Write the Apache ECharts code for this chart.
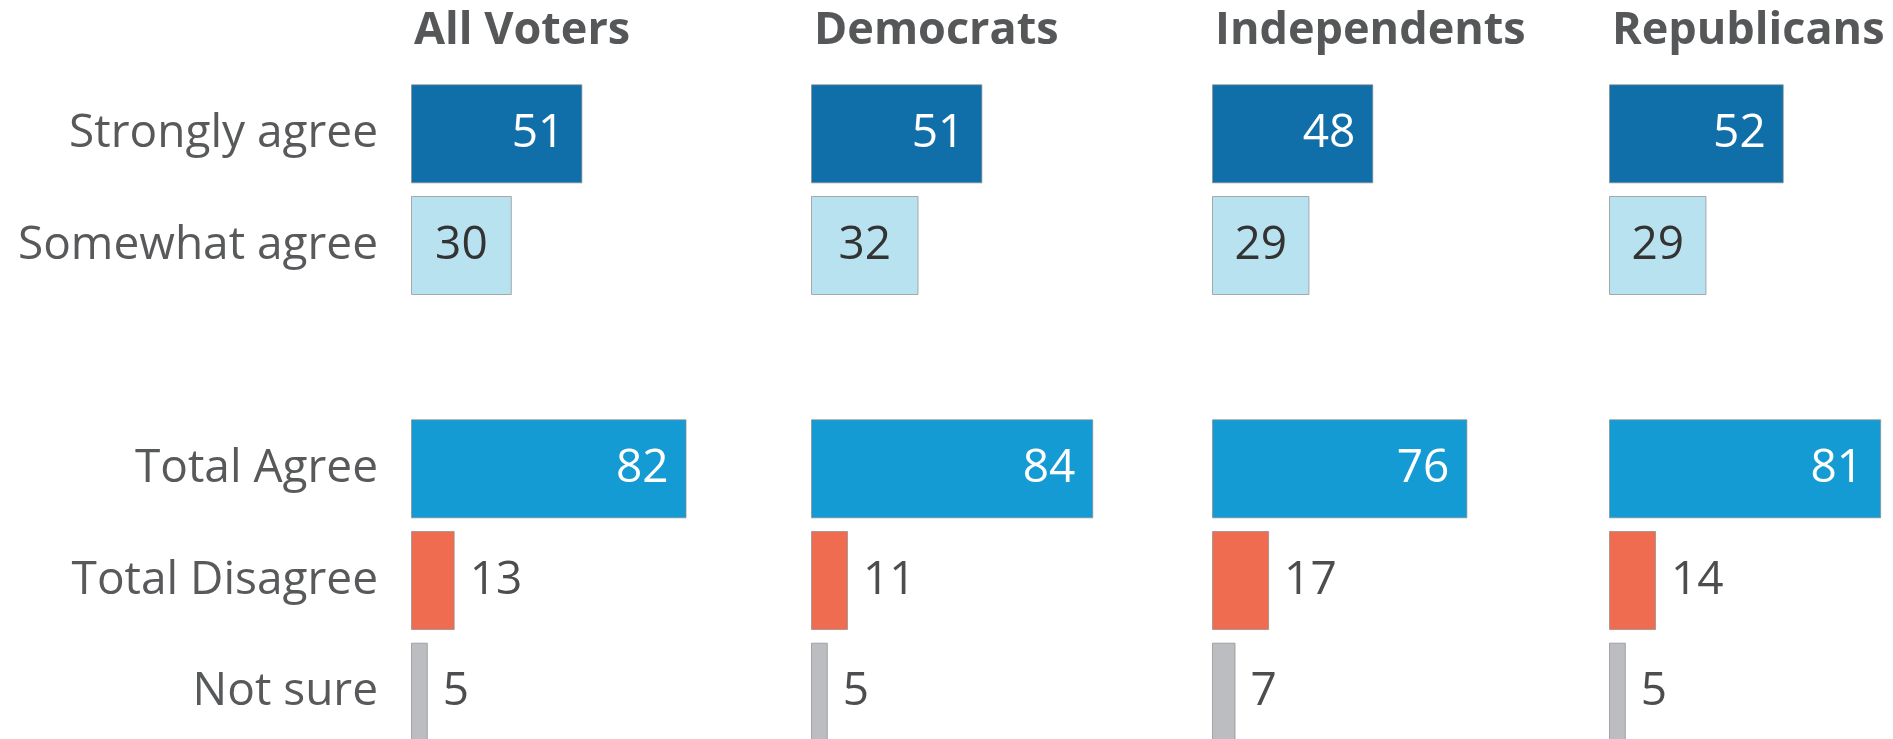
<!DOCTYPE html>
<html>
<head>
<meta charset="utf-8">
<title>Agree by party</title>
<script src="https://cdn.jsdelivr.net/npm/echarts@6/dist/echarts.min.js"></script>
<style>
  html, body { margin: 0; padding: 0; background: #fff; }
  #chart { width: 1893px; height: 739px; }
</style>
</head>
<body>
<div id="chart"></div>
<script>
// categories (empty one is the spacer row between the two blocks)
var categories = ['Strongly agree', 'Somewhat agree', '', 'Total Agree', 'Total Disagree', 'Not sure'];
var groups = ['All Voters', 'Democrats', 'Independents', 'Republicans'];

// values per group, same order as groups
var stronglyAgree = [51, 51, 48, 52];
var somewhatAgree = [30, 32, 29, 29];
var totalAgree = [82, 84, 76, 81];
var totalDisagree = [13, 11, 17, 14];
var notSure = [5, 5, 7, 5];

var FONT = '"Open Sans"';
var FS = 46;
var GREY_TEXT = '#58595b';

var chart = echarts.init(document.getElementById('chart'), null, { renderer: 'canvas' });

var gridLefts = [411, 811, 1212, 1609];

// label styles per row
function lblInsideRight() {
  return { show: true, position: 'insideRight', distance: 18, color: '#fff', fontSize: FS, fontFamily: FONT };
}
function lblInside() {
  return { show: true, position: 'inside', color: '#333', fontSize: FS, fontFamily: FONT };
}
function lblRight() {
  return { show: true, position: 'right', distance: 15, color: '#4d4d4f', fontSize: FS, fontFamily: FONT };
}

var rowStyle = [
  { color: '#106ea8', label: lblInsideRight },
  { color: '#b9e2f0', label: lblInside },
  null,
  { color: '#159bd3', label: lblInsideRight },
  { color: '#f06c50', label: lblRight },
  { color: '#bcbdc0', label: lblRight }
];

var grids = [], xAxes = [], yAxes = [], series = [], titles = [];

groups.forEach(function (g, i) {
  grids.push({
    left: gridLefts[i], top: 78, width: 336, height: 670,
    containLabel: false, outerBoundsMode: 'none'
  });
  xAxes.push({ type: 'value', gridIndex: i, min: 0, max: 100, show: false });
  yAxes.push({
    type: 'category', gridIndex: i, data: categories, inverse: true,
    axisLine: { show: false }, axisTick: { show: false }, splitLine: { show: false },
    axisLabel: {
      show: i === 0, margin: 33, fontSize: FS, color: GREY_TEXT, fontFamily: FONT
    }
  });
  titles.push({
    text: g, left: gridLefts[i] - 2, top: 4,
    textStyle: { fontSize: 45, fontWeight: 'bold', color: '#555759', fontFamily: FONT }
  });

  var vals = [stronglyAgree[i], somewhatAgree[i], null, totalAgree[i], totalDisagree[i], notSure[i]];
  var data = vals.map(function (v, k) {
    if (v === null) return { value: '-' };
    var s = rowStyle[k];
    return {
      value: v,
      itemStyle: { color: s.color, borderColor: 'rgba(140,140,140,0.7)', borderWidth: 1 },
      label: s.label()
    };
  });

  series.push({
    type: 'bar', xAxisIndex: i, yAxisIndex: i,
    barWidth: 99, data: data, silent: true, animation: false
  });
});

chart.setOption({
  backgroundColor: '#fff',
  animation: false,
  title: titles,
  grid: grids,
  xAxis: xAxes,
  yAxis: yAxes,
  series: series
});
</script>
</body>
</html>
